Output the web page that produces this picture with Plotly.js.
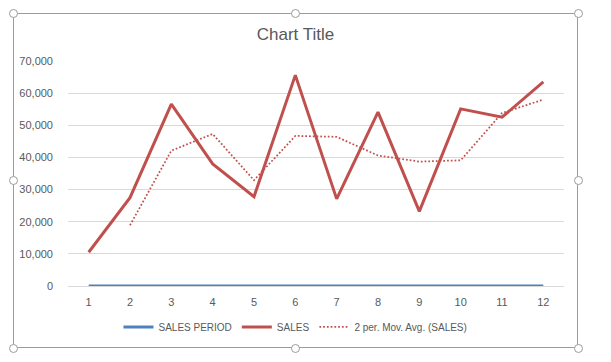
<!DOCTYPE html>
<html>
<head>
<meta charset="utf-8">
<script src="https://cdn.plot.ly/plotly-3.0.1.min.js"></script>
<style>
  html, body { margin: 0; padding: 0; background: #ffffff; }
  #wrap { position: relative; width: 611px; height: 362px; overflow: hidden; }
  #frame { position: absolute; left: 13px; top: 13px; width: 565px; height: 335px;
           border: 1px solid #9c9c9c; box-sizing: border-box; }
  #chart { position: absolute; left: 0; top: 0; width: 611px; height: 362px; }
  .h { position: absolute; width: 9px; height: 9px; border-radius: 50%;
       border: 1.5px solid #9c9c9c; background: #ffffff; box-sizing: border-box; z-index: 5; }
</style>
</head>
<body>
<div id="wrap">
  <div id="frame"></div>
  <div id="chart"></div>
</div>
<script>
// ---- data ----
const periods = [1, 2, 3, 4, 5, 6, 7, 8, 9, 10, 11, 12];
const salesPeriod = [1, 2, 3, 4, 5, 6, 7, 8, 9, 10, 11, 12];
const sales = [10500, 27500, 56600, 38000, 27800, 65600, 27100, 54100, 23200, 55100, 52500, 63500];
const movAvgPeriods = [2, 3, 4, 5, 6, 7, 8, 9, 10, 11, 12];
const movAvg = [18900, 42100, 47300, 32900, 46700, 46400, 40600, 38700, 39100, 53800, 58000];
const yTicks = [0, 10000, 20000, 30000, 40000, 50000, 60000, 70000];
const yTickLabels = ['0', '10,000', '20,000', '30,000', '40,000', '50,000', '60,000', '70,000'];
const seriesNames = ['SALES PERIOD', 'SALES', '2 per. Mov. Avg. (SALES)'];

const FONT = 'Liberation Sans, Arial, sans-serif';
const TXT = '#595959';

const traces = [
  { x: periods, y: salesPeriod, name: seriesNames[0], type: 'scatter', mode: 'lines',
    line: { color: '#4f81bd', width: 3 } },
  { x: periods, y: sales, name: seriesNames[1], type: 'scatter', mode: 'lines',
    line: { color: '#c0504d', width: 3 } },
  { x: movAvgPeriods, y: movAvg, name: seriesNames[2], type: 'scatter', mode: 'lines',
    line: { color: '#c0504d', width: 1.75, dash: '1.75px,2px' } }
];

const layout = {
  width: 611, height: 362,
  paper_bgcolor: 'rgba(0,0,0,0)', plot_bgcolor: 'rgba(0,0,0,0)',
  margin: { l: 68, r: 47, t: 61, b: 76 },
  font: { family: FONT, size: 11, color: TXT },
  title: { text: 'Chart Title', font: { family: FONT, size: 17, color: TXT },
           x: 0.4836, xref: 'container', xanchor: 'center',
           y: 0.906, yref: 'container', yanchor: 'middle' },
  xaxis: { range: [0.5, 12.5], tickmode: 'array', tickvals: periods, ticktext: periods.map(String),
           showgrid: false, zeroline: false, showline: true, linecolor: '#d9d9d9', linewidth: 1,
           ticks: '', ticklabelstandoff: 6, fixedrange: true },
  yaxis: { range: [0, 70000], tickmode: 'array', tickvals: yTicks, ticktext: yTickLabels,
           showgrid: true, gridcolor: '#d9d9d9', gridwidth: 1, zeroline: false, showline: false,
           ticks: '', ticklabelstandoff: 14, fixedrange: true },
  showlegend: true,
  legend: { orientation: 'h', xref: 'container', yref: 'container',
            x: 0.4836, xanchor: 'center', y: 0.0967, yanchor: 'middle',
            font: { family: FONT, size: 10, color: TXT }, bgcolor: 'rgba(0,0,0,0)',
            traceorder: 'normal' }
};

Plotly.newPlot('chart', traces, layout, { displayModeBar: false, staticPlot: true });

// selection handles
const handlePts = [[13,13],[295.5,13],[578,13],[13,180.5],[578,180.5],[13,348],[295.5,348],[578,348]];
const wrap = document.getElementById('wrap');
handlePts.forEach(p => {
  const d = document.createElement('div');
  d.className = 'h';
  d.style.left = (p[0] - 4.5) + 'px';
  d.style.top = (p[1] - 4.5) + 'px';
  wrap.appendChild(d);
});
</script>
</body>
</html>
